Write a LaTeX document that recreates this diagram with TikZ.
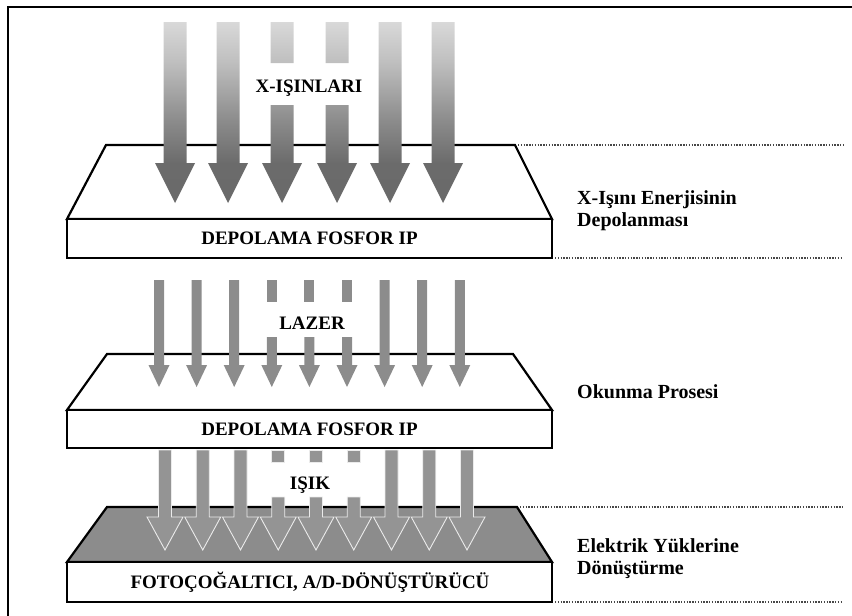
\documentclass[tikz,border=0pt]{standalone}
\usepackage{fontspec}
\setmainfont{Liberation Serif}
\pgfdeclareverticalshading{xray}{100bp}{color(0bp)=(black!60); color(36bp)=(black!58); color(48bp)=(black!45); color(64bp)=(black!25); color(75bp)=(black!15); color(100bp)=(black!15)}
\begin{document}
\begin{tikzpicture}[x=1pt,y=-1pt,
  plate/.style={draw=black, line width=2.2pt, fill=white, line join=miter},
  darkplate/.style={plate, fill=black!45},
  boxlbl/.style={font=\bfseries\fontsize{19}{21}\selectfont, inner sep=0pt, text=black},
  beamlbl/.style={font=\bfseries\fontsize{19}{21}\selectfont, inner sep=1pt, text=black},
  side/.style={font=\bfseries\fontsize{20}{22}\selectfont, align=left, anchor=west, inner sep=0pt, text=black},
  guide/.style={line width=1.5pt, dash pattern=on 1.4pt off 1.4pt, draw=black!72},
  laserarrow/.style={fill=black!45},
  lightarrow/.style={fill=black!42, draw=white!92!black, line width=0.9pt, line join=miter}]
\useasboundingbox (0,0) rectangle (852,616);
% frame
\draw[line width=2.6pt] (8,616) -- (8,7) -- (852,7);

% ---- unit 1: X-ray storage ----
\draw[plate] (106,145) -- (515,145) -- (552,219) -- (67,219) -- cycle;
\draw[plate] (67,219) rectangle (552,258);
\foreach \c in {175,228,390,443}
  \shade[shading=xray] (\c-11.5,22) -- (\c+11.5,22) -- (\c+11.5,163) -- (\c+20,163) -- (\c,203) -- (\c-20,163) -- (\c-11.5,163) -- cycle;
\foreach \c in {282,337}
  \shade[shading=xray] (\c-11.5,22) rectangle (\c+11.5,63)
    (\c-11.5,105) -- (\c+11.5,105) -- (\c+11.5,163) -- (\c+20,163) -- (\c,203) -- (\c-20,163) -- (\c-11.5,163) -- cycle;
\node[beamlbl] (xr) at (309,88) {X-IŞINLARI};
\node[boxlbl] (ip1) at (309.5,238.5) {DEPOLAMA FOSFOR IP};

% ---- unit 2: read-out ----
\draw[plate] (107,354) -- (513,354) -- (552,410) -- (67,410) -- cycle;
\draw[plate] (67,410) rectangle (552,448);
\foreach \i in {0,1,2,6,7,8} {
  \pgfmathsetmacro{\c}{159+37.6*\i}
  \fill[laserarrow] (\c-5,280) -- (\c+5,280) -- (\c+5,365) -- (\c+10.5,365) -- (\c,387) -- (\c-10.5,365) -- (\c-5,365) -- cycle;
}
\foreach \i in {3,4,5} {
  \pgfmathsetmacro{\c}{159+37.6*\i}
  \fill[laserarrow] (\c-5,280) rectangle (\c+5,302);
  \fill[laserarrow] (\c-5,337) -- (\c+5,337) -- (\c+5,365) -- (\c+10.5,365) -- (\c,387) -- (\c-10.5,365) -- (\c-5,365) -- cycle;
}
\node[beamlbl] (lz) at (312,323) {LAZER};
\node[boxlbl] (ip2) at (309.5,429) {DEPOLAMA FOSFOR IP};

% ---- unit 3: conversion ----
\draw[darkplate] (107,507) -- (517,507) -- (552,562) -- (67,562) -- cycle;
\draw[plate] (67,562) rectangle (552,602);
\foreach \i in {0,1,2,6,7,8} {
  \pgfmathsetmacro{\c}{165+37.75*\i}
  \filldraw[lightarrow] (\c-6.5,450) -- (\c+6.5,450) -- (\c+6.5,517) -- (\c+18,517) -- (\c,550) -- (\c-18,517) -- (\c-6.5,517) -- cycle;
}
\foreach \i in {3,4,5} {
  \pgfmathsetmacro{\c}{165+37.75*\i}
  \filldraw[lightarrow] (\c-6.5,450) rectangle (\c+6.5,462);
  \filldraw[lightarrow] (\c-6.5,497) -- (\c+6.5,497) -- (\c+6.5,517) -- (\c+18,517) -- (\c,550) -- (\c-18,517) -- (\c-6.5,517) -- cycle;
}
\node[beamlbl] (li) at (310,485) {IŞIK};
\node[boxlbl] (pm) at (310,582) {FOTOÇOĞALTICI, A/D-DÖNÜŞTÜRÜCÜ};

% ---- guide lines ----
\coordinate (g1a) at (518,145); \coordinate (g1b) at (843,145);
\coordinate (g2a) at (555,258); \coordinate (g2b) at (843,258);
\coordinate (g3a) at (520,507); \coordinate (g3b) at (843,507);
\coordinate (g4a) at (555,602); \coordinate (g4b) at (843,602);
\draw[guide] (g1a) -- (g1b);
\draw[guide] (g2a) -- (g2b);
\draw[guide] (g3a) -- (g3b);
\draw[guide] (g4a) -- (g4b);

% ---- side labels ----
\node[side] (s1) at (577,211) {X-Işını Enerjisinin\\Depolanması};
\node[side] (s2) at (577,392) {Okunma Prosesi};
\node[side] (s3) at (577,559) {Elektrik Yüklerine\\Dönüştürme};
\end{tikzpicture}
\end{document}
